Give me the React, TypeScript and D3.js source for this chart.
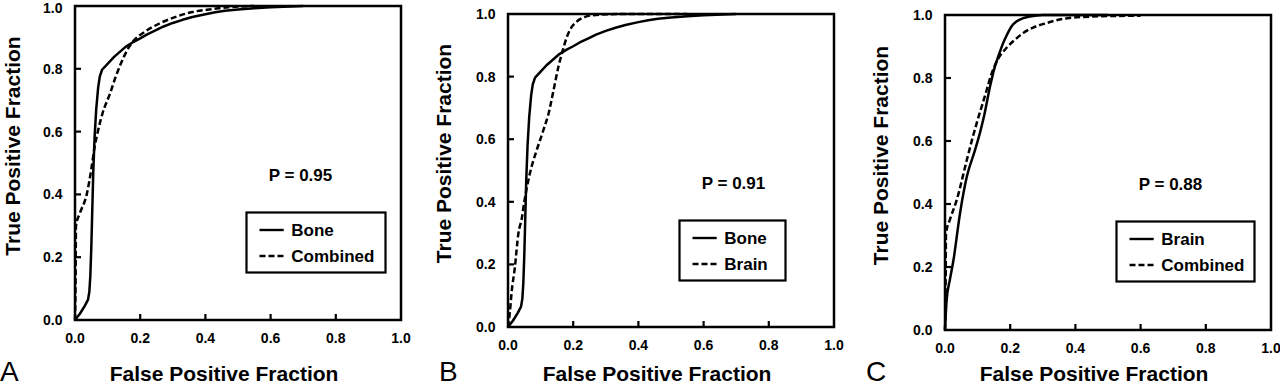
import React from 'react';
import * as d3 from 'd3';

// ROC curves, [false positive fraction, true positive fraction]
const boneCurve: [number, number][] = [
  [0, 0], [0.015, 0.02], [0.03, 0.045], [0.04, 0.065], [0.044, 0.09], [0.047, 0.14],
  [0.05, 0.23], [0.053, 0.35], [0.056, 0.47], [0.06, 0.58], [0.065, 0.67], [0.071, 0.74],
  [0.076, 0.775], [0.083, 0.797], [0.12, 0.838], [0.155, 0.87], [0.18, 0.886], [0.2, 0.897],
  [0.22, 0.909], [0.25, 0.924], [0.27, 0.934], [0.3, 0.946], [0.33, 0.956], [0.36, 0.965],
  [0.4, 0.974], [0.43, 0.98], [0.46, 0.985], [0.5, 0.989], [0.55, 0.993], [0.6, 0.996], [0.7, 1.0],
];
const combinedCurveA: [number, number][] = [
  [0, 0], [0.002, 0.15], [0.003, 0.3], [0.015, 0.34], [0.036, 0.4], [0.05, 0.48], [0.06, 0.55],
  [0.07, 0.6], [0.085, 0.66], [0.107, 0.72], [0.125, 0.775], [0.14, 0.815], [0.165, 0.868],
  [0.185, 0.895], [0.21, 0.915], [0.26, 0.945], [0.3, 0.962], [0.36, 0.981], [0.42, 0.99],
  [0.47, 0.996], [0.55, 1.0],
];
const brainCurveB: [number, number][] = [
  [0, 0], [0.006, 0.05], [0.011, 0.11], [0.021, 0.19], [0.032, 0.3], [0.042, 0.345], [0.05, 0.4],
  [0.067, 0.49], [0.088, 0.565], [0.1, 0.602], [0.112, 0.64], [0.124, 0.68], [0.14, 0.758],
  [0.155, 0.833], [0.167, 0.88], [0.18, 0.925], [0.195, 0.958], [0.21, 0.975], [0.235, 0.99],
  [0.26, 0.996], [0.35, 1.0], [0.55, 1.0],
];
const brainCurveC: [number, number][] = [
  [0, 0], [0.005, 0.095], [0.015, 0.16], [0.026, 0.222], [0.046, 0.37], [0.067, 0.487],
  [0.092, 0.571], [0.107, 0.625], [0.12, 0.68], [0.138, 0.772], [0.153, 0.836], [0.164, 0.87],
  [0.178, 0.91], [0.189, 0.935], [0.205, 0.965], [0.22, 0.98], [0.24, 0.99], [0.26, 0.995],
  [0.3, 1.0], [0.5, 1.0],
];
const combinedCurveC: [number, number][] = [
  [0, 0], [0.002, 0.15], [0.003, 0.307], [0.015, 0.35], [0.036, 0.413], [0.067, 0.54],
  [0.082, 0.6], [0.097, 0.656], [0.128, 0.762], [0.14, 0.805], [0.159, 0.853], [0.189, 0.896],
  [0.215, 0.922], [0.24, 0.943], [0.27, 0.96], [0.31, 0.974], [0.375, 0.99], [0.45, 0.995],
  [0.6, 0.998],
];

const panelLetters = ['A', 'B', 'C'];
const pLabels = ['P = 0.95', 'P = 0.91', 'P = 0.88'];
const legendLabels = [['Bone', 'Combined'], ['Bone', 'Brain'], ['Brain', 'Combined']];
const solidCurves = [boneCurve, boneCurve, brainCurveC];
const dashedCurves = [combinedCurveA, brainCurveB, combinedCurveC];
const tickValues = [0, 0.2, 0.4, 0.6, 0.8, 1.0];
const xTitle = 'False Positive Fraction';
const yTitle = 'True Positive Fraction';

// layout of each panel box
const boxes = [
  { x: 75, y: 6, w: 326, h: 314, legendW: 139, letterX: 0 },
  { x: 508, y: 14, w: 326, h: 313, legendW: 106, letterX: 439 },
  { x: 945, y: 15, w: 326, h: 315, legendW: 138, letterX: 866 },
];

const FONT = '"Liberation Sans", Arial, Helvetica, sans-serif';

function Panel({ i }: { i: number }) {
  const b = boxes[i];
  const x = d3.scaleLinear().domain([0, 1]).range([b.x, b.x + b.w]);
  const y = d3.scaleLinear().domain([0, 1]).range([b.y + b.h, b.y]);
  // the bone curve has a sharp corner, keep it straight-segmented
  const solidLine = d3.line<[number, number]>()
    .x(d => x(d[0]))
    .y(d => y(d[1]))
    .curve(i < 2 ? d3.curveLinear : d3.curveMonotoneX);
  const dashedLine = d3.line<[number, number]>()
    .x(d => x(d[0]))
    .y(d => y(d[1]))
    .curve(d3.curveMonotoneX);
  const inner = tickValues.filter(t => t > 0 && t < 1);
  const lx = b.x + 171.5;
  const ly = b.y + 206.5;

  return (
    <g>
      {/* curves */}
      <path d={solidLine(solidCurves[i]) || ''} fill="none" stroke="#000" strokeWidth={2.5} strokeLinejoin="round" />
      <path d={dashedLine(dashedCurves[i]) || ''} fill="none" stroke="#000" strokeWidth={2.5} strokeDasharray="6,3" />

      {/* frame */}
      <rect x={b.x} y={b.y} width={b.w} height={b.h} fill="none" stroke="#000" strokeWidth={2.5} />
      {inner.map(t => (
        <line key={'xt' + t} x1={x(t)} x2={x(t)} y1={b.y + b.h} y2={b.y + b.h - 6} stroke="#000" strokeWidth={2.2} />
      ))}
      {inner.map(t => (
        <line key={'yt' + t} x1={b.x} x2={b.x + 6} y1={y(t)} y2={y(t)} stroke="#000" strokeWidth={2.2} />
      ))}

      {/* tick labels */}
      {tickValues.map(t => (
        <text key={'xl' + t} x={x(t)} y={b.y + b.h + 23} textAnchor="middle"
          fontFamily={FONT} fontWeight="bold" fontSize={14}>{t.toFixed(1)}</text>
      ))}
      {tickValues.map(t => (
        <text key={'yl' + t} x={b.x - 12.5} y={Math.max(y(t) + 5, 13)} textAnchor="end"
          fontFamily={FONT} fontWeight="bold" fontSize={14}>{t.toFixed(1)}</text>
      ))}

      {/* axis titles */}
      <text x={b.x + b.w / 2 - 14} y={380.5} textAnchor="middle"
        fontFamily={FONT} fontWeight="bold" fontSize={21}>{xTitle}</text>
      <text transform={`translate(${Math.max(b.x - 57.5, 19.5)},${b.y + b.h / 2 - 17}) rotate(-90)`} textAnchor="middle"
        fontFamily={FONT} fontWeight="bold" fontSize={21}>{yTitle}</text>

      {/* panel letter */}
      <text x={b.letterX} y={381} fontFamily={FONT} fontSize={28}>{panelLetters[i]}</text>

      {/* P value */}
      <text x={b.x + 225.5} y={b.y + 175} textAnchor="middle"
        fontFamily={FONT} fontWeight="bold" fontSize={17}>{pLabels[i]}</text>

      {/* legend */}
      <rect x={lx} y={ly} width={b.legendW} height={60} fill="#fff" stroke="#000" strokeWidth={2.2} />
      <line x1={b.x + 184.5} x2={b.x + 208.7} y1={b.y + 224} y2={b.y + 224} stroke="#000" strokeWidth={2.4} />
      <line x1={b.x + 184.5} x2={b.x + 208.7} y1={b.y + 250} y2={b.y + 250} stroke="#000" strokeWidth={2.4} strokeDasharray="6,3" />
      <text x={b.x + 216.3} y={b.y + 230} fontFamily={FONT} fontWeight="bold" fontSize={17}>{legendLabels[i][0]}</text>
      <text x={b.x + 216.3} y={b.y + 256} fontFamily={FONT} fontWeight="bold" fontSize={17}>{legendLabels[i][1]}</text>
    </g>
  );
}

export default function App() {
  return (
    <svg width={1280} height={386} style={{ position: 'absolute', left: 0, top: 0, background: '#fff' }}>
      <rect x={0} y={0} width={1280} height={386} fill="#fff" />
      {boxes.map((_, i) => <Panel key={i} i={i} />)}
    </svg>
  );
}
